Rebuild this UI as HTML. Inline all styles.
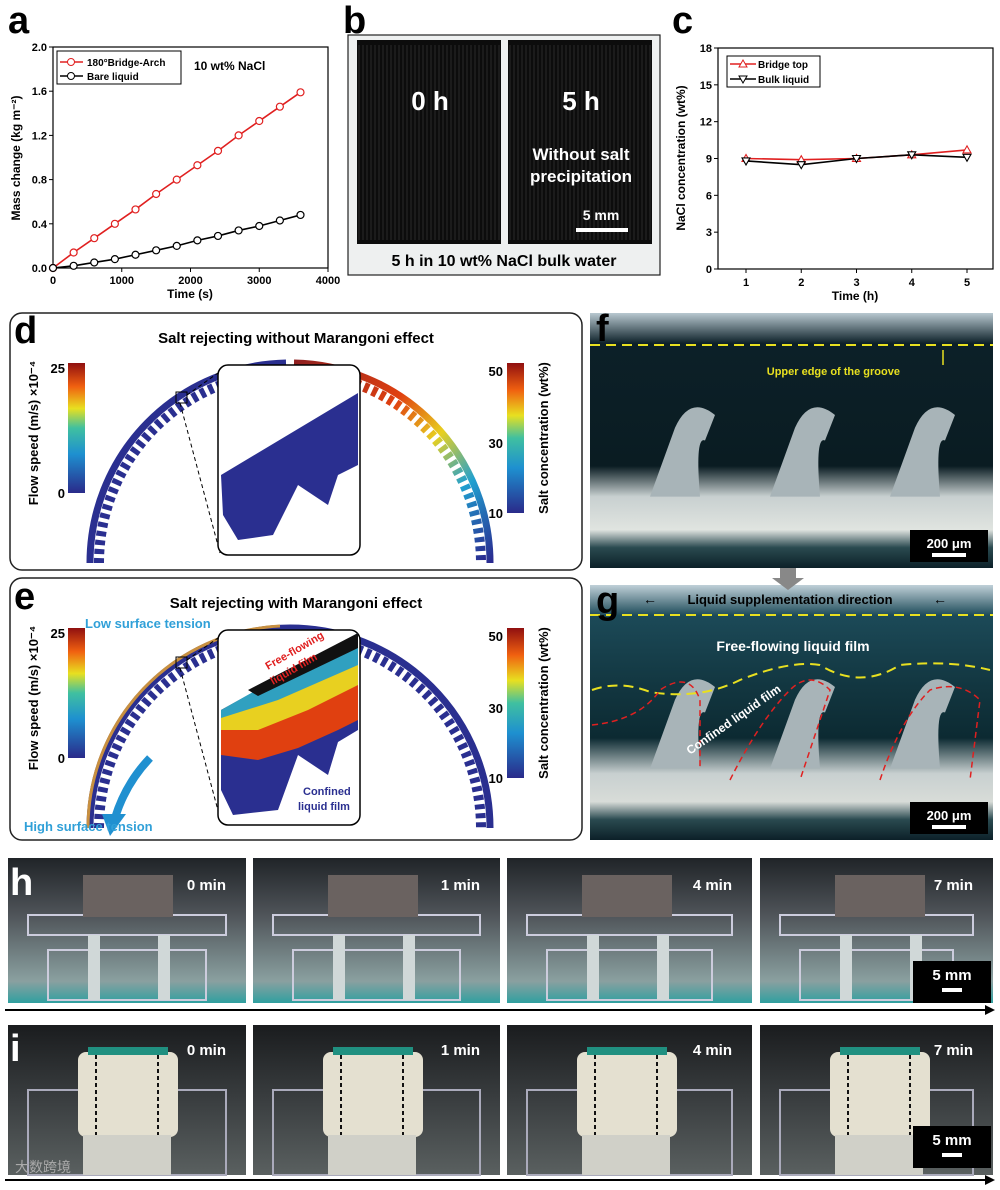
<!DOCTYPE html>
<html><head><meta charset="utf-8"><style>
body{margin:0;background:#fff;font-family:"Liberation Sans",Arial,sans-serif;}
#root{position:relative;width:1000px;height:1190px;overflow:hidden;background:#fff}
.lbl{position:absolute;font-weight:bold;font-size:38px;line-height:1;color:#000}
.abs{position:absolute}
</style></head><body><div id="root">
<svg width="1000" height="1190" style="position:absolute;left:0;top:0" id="svg">
<defs>
<linearGradient id="cbar" x1="0" y1="1" x2="0" y2="0"><stop offset="0" stop-color="#2a2a8a"/><stop offset=".3" stop-color="#1e90d0"/><stop offset=".5" stop-color="#40c0a0"/><stop offset=".65" stop-color="#e8e020"/><stop offset=".82" stop-color="#f06010"/><stop offset="1" stop-color="#901010"/></linearGradient>
<linearGradient id="arcg" x1="0" y1="0" x2="1" y2="1"><stop offset="0" stop-color="#902020"/><stop offset=".35" stop-color="#e04010"/><stop offset=".55" stop-color="#e8d020"/><stop offset=".75" stop-color="#20a0d0"/><stop offset="1" stop-color="#2a2a90"/></linearGradient>
<linearGradient id="photoF" x1="0" y1="0" x2="0" y2="1"><stop offset="0" stop-color="#b8c8d0"/><stop offset=".12" stop-color="#0c2028"/><stop offset=".6" stop-color="#0a1c22"/><stop offset=".72" stop-color="#c8d0d0"/><stop offset=".85" stop-color="#e0e4e0"/><stop offset=".92" stop-color="#2a4a50"/><stop offset="1" stop-color="#0c2028"/></linearGradient>
<linearGradient id="photoG" x1="0" y1="0" x2="0" y2="1"><stop offset="0" stop-color="#c0d0d8"/><stop offset=".12" stop-color="#1c4a58"/><stop offset=".4" stop-color="#123640"/><stop offset=".6" stop-color="#0c2a32"/><stop offset=".74" stop-color="#c8d0d0"/><stop offset=".85" stop-color="#d8dcd8"/><stop offset=".92" stop-color="#2a4a50"/><stop offset="1" stop-color="#0c2028"/></linearGradient>
<linearGradient id="photoH" x1="0" y1="0" x2="0" y2="1"><stop offset="0" stop-color="#202428"/><stop offset=".4" stop-color="#50555a"/><stop offset=".85" stop-color="#8aa0a0"/><stop offset="1" stop-color="#30a0a0"/></linearGradient>
<linearGradient id="photoI" x1="0" y1="0" x2="0" y2="1"><stop offset="0" stop-color="#1a1c1e"/><stop offset=".5" stop-color="#3a3e40"/><stop offset="1" stop-color="#5a6060"/></linearGradient>
</defs>
<g id="charts"></g>
</svg>
<div class="lbl" style="left:8px;top:2px">a</div>
<div class="lbl" style="left:343px;top:2px">b</div>
<div class="lbl" style="left:672px;top:2px">c</div>
<div class="lbl" style="left:14px;top:312px">d</div>
<div class="lbl" style="left:14px;top:578px">e</div>
<div class="lbl" style="left:596px;top:310px;color:#000">f</div>
<div class="lbl" style="left:596px;top:582px">g</div>
<div class="lbl" style="left:10px;top:864px;color:#fff">h</div>
<div class="lbl" style="left:10px;top:1030px;color:#fff">i</div>
<script>
const NS='http://www.w3.org/2000/svg';
const G=document.getElementById('charts');
function mk(t,a,p){const e=document.createElementNS(NS,t);for(const k in a)e.setAttribute(k,a[k]);(p||G).appendChild(e);return e;}
function tx(x,y,s,o){o=o||{};const e=mk('text',Object.assign({x:x,y:y,'font-size':o.fs||12,'font-weight':o.fw||'bold',fill:o.fill||'#000','text-anchor':o.a||'start','font-family':'Liberation Sans, Arial, sans-serif'},o.t?{transform:o.t}:{}));e.textContent=s;return e;}

// ---- Panel a data
const aTimes=[0,300,600,900,1200,1500,1800,2100,2400,2700,3000,3300,3600];
const aBridge=[0,0.14,0.27,0.40,0.53,0.67,0.80,0.93,1.06,1.20,1.33,1.46,1.59];
const aBare=[0,0.02,0.05,0.08,0.12,0.16,0.20,0.25,0.29,0.34,0.38,0.43,0.48];
const aXTicks=[0,1000,2000,3000,4000];
const aYTicks=[0.0,0.4,0.8,1.2,1.6,2.0];
// ---- Panel c data
const cHours=[1,2,3,4,5];
const cBridge=[9.0,8.9,9.0,9.3,9.7];
const cBulk=[8.8,8.5,9.0,9.3,9.1];
const cYTicks=[0,3,6,9,12,15,18];

// panel a axes
const ax=v=>53+(v/4000)*275, ay=v=>268-(v/2.0)*221;
let fr=mk('rect',{x:53,y:47,width:275,height:221,fill:'none',stroke:'#000','stroke-width':1.2});

aXTicks.forEach(v=>{mk('line',{x1:ax(v),x2:ax(v),y1:268,y2:272,stroke:'#000'});tx(ax(v),284,String(v),{a:'middle',fs:11});});
aYTicks.forEach(v=>{mk('line',{x1:49,x2:53,y1:ay(v),y2:ay(v),stroke:'#000'});tx(47,ay(v)+4,v.toFixed(1),{a:'end',fs:11});});
tx(190,298,'Time (s)',{a:'middle',fs:12});
tx(20,158,'Mass change (kg m⁻²)',{a:'middle',fs:12,t:'rotate(-90 20 158)'});
function series(xs,ys,fx,fy,col,name,marker){
  const l=mk('polyline',{points:xs.map((x,i)=>fx(x)+','+fy(ys[i])).join(' '),fill:'none',stroke:col,'stroke-width':1.6});
  
  xs.forEach((x,i)=>{let m;
    if(marker==='circle')m=mk('circle',{cx:fx(x),cy:fy(ys[i]),r:3.5,fill:'#fff',stroke:col,'stroke-width':1.2});
    else{const X=fx(x),Y=fy(ys[i]);const pts=marker==='up'?[[X,Y-4],[X-4,Y+3],[X+4,Y+3]]:[[X,Y+4],[X-4,Y-3],[X+4,Y-3]];m=mk('polygon',{points:pts.map(p=>p.join(',')).join(' '),fill:'#fff',stroke:col,'stroke-width':1.1});}
    });
}
series(aTimes,aBridge,ax,ay,'#e02020','bridge-arch','circle');
series(aTimes,aBare,ax,ay,'#000','bare-liquid','circle');
mk('rect',{x:57,y:51,width:124,height:33,fill:'#fff',stroke:'#000'});
mk('line',{x1:60,x2:83,y1:62,y2:62,stroke:'#e02020','stroke-width':1.5});mk('circle',{cx:71,cy:62,r:3.5,fill:'#fff',stroke:'#e02020'});
tx(87,66,'180°Bridge-Arch',{fs:10});
mk('line',{x1:60,x2:83,y1:76,y2:76,stroke:'#000','stroke-width':1.5});mk('circle',{cx:71,cy:76,r:3.5,fill:'#fff',stroke:'#000'});
tx(87,80,'Bare liquid',{fs:10});
tx(194,70,'10 wt% NaCl',{fs:12});

// panel b
mk('rect',{x:348,y:35,width:312,height:240,fill:'#eef0f0',stroke:'#222','stroke-width':1.2});
for(const x0 of [357,508]){mk('rect',{x:x0,y:40,width:144,height:204,fill:'#0c0c0c'});
 for(let k=0;k<36;k++)mk('line',{x1:x0+2+k*4,x2:x0+2+k*4,y1:45,y2:240,stroke:'#2a2a2a','stroke-width':1});}
tx(430,110,'0 h',{fs:26,fill:'#fff',a:'middle'});tx(581,110,'5 h',{fs:26,fill:'#fff',a:'middle'});
tx(581,160,'Without salt',{fs:17,fill:'#fff',a:'middle'});tx(581,182,'precipitation',{fs:17,fill:'#fff',a:'middle'});
tx(601,220,'5 mm',{fs:14,fill:'#fff',a:'middle'});mk('rect',{x:576,y:228,width:52,height:4,fill:'#fff'});
tx(504,266,'5 h in 10 wt% NaCl bulk water',{fs:16,a:'middle'});

// panel c axes
const cx=v=>746+(v-1)*55.25, cy=v=>269-(v/18)*221;
fr=mk('rect',{x:718,y:48,width:275,height:221,fill:'none',stroke:'#000','stroke-width':1.2});

cHours.forEach(v=>{mk('line',{x1:cx(v),x2:cx(v),y1:269,y2:273,stroke:'#000'});tx(cx(v),286,String(v),{a:'middle',fs:11});});
cYTicks.forEach(v=>{mk('line',{x1:714,x2:718,y1:cy(v),y2:cy(v),stroke:'#000'});tx(712,cy(v)+4,String(v),{a:'end',fs:11});});
tx(855,300,'Time (h)',{a:'middle',fs:12});
tx(685,158,'NaCl concentration (wt%)',{a:'middle',fs:12,t:'rotate(-90 685 158)'});
series(cHours,cBridge,cx,cy,'#e02020','bridge-top','up');
series(cHours,cBulk,cx,cy,'#000','bulk-liquid','down');
mk('rect',{x:727,y:56,width:93,height:31,fill:'#fff',stroke:'#000'});
mk('line',{x1:730,x2:756,y1:64,y2:64,stroke:'#e02020','stroke-width':1.5});mk('polygon',{points:'743,60 739,67 747,67',fill:'#fff',stroke:'#e02020'});
tx(758,68,'Bridge top',{fs:10});
mk('line',{x1:730,x2:756,y1:79,y2:79,stroke:'#000','stroke-width':1.5});mk('polygon',{points:'743,83 739,76 747,76',fill:'#fff',stroke:'#000'});
tx(758,83,'Bulk liquid',{fs:10});

// panels d and e
function simPanel(y0,title,mar){
  mk('rect',{x:10,y:y0,width:572,height:y0===313?257:262,rx:12,fill:'#fff',stroke:'#222','stroke-width':1.5});
  tx(296,y0+30,title,{fs:15,a:'middle'});
  const cyc=y0+250, R=200, cxc=290;
  // colorbars
  mk('rect',{x:68,y:y0+50,width:17,height:130,fill:'url(#cbar)'});
  tx(65,y0+60,'25',{fs:13,a:'end'});tx(65,y0+185,'0',{fs:13,a:'end'});
  tx(38,y0+120,'Flow speed (m/s) ×10⁻⁴',{fs:13,a:'middle',t:'rotate(-90 38 '+(y0+120)+')'});
  mk('rect',{x:507,y:y0+50,width:17,height:150,fill:'url(#cbar)'});
  tx(503,y0+63,'50',{fs:13,a:'end'});tx(503,y0+135,'30',{fs:13,a:'end'});tx(503,y0+205,'10',{fs:13,a:'end'});
  tx(548,y0+125,'Salt concentration (wt%)',{fs:13,a:'middle',t:'rotate(-90 548 '+(y0+125)+')'});
  // arc
  if(!mar){
    mk('path',{d:`M${cxc-R},${cyc} A${R},${R} 0 0 1 ${cxc-4},${cyc-R}`,fill:'none',stroke:'#2a2f90','stroke-width':7});
    mk('path',{d:`M${cxc-R+9},${cyc} A${R-9},${R-9} 0 0 1 ${cxc-4},${cyc-R+9}`,fill:'none',stroke:'#2a2f90','stroke-width':10,'stroke-dasharray':'5 4'});
    mk('path',{d:`M${cxc+4},${cyc-R} A${R},${R} 0 0 1 ${cxc+R},${cyc}`,fill:'none',stroke:'url(#arcg)','stroke-width':7});
    mk('path',{d:`M${cxc+4},${cyc-R+9} A${R-9},${R-9} 0 0 1 ${cxc+R-9},${cyc}`,fill:'none',stroke:'url(#arcg)','stroke-width':10,'stroke-dasharray':'5 4'});
  } else {
    mk('path',{d:`M${cxc-R},${cyc} A${R},${R} 0 0 1 ${cxc+R},${cyc}`,fill:'none',stroke:'#2a2f90','stroke-width':7});
    mk('path',{d:`M${cxc-R+9},${cyc} A${R-9},${R-9} 0 0 1 ${cxc+R-9},${cyc}`,fill:'none',stroke:'#2a2f90','stroke-width':10,'stroke-dasharray':'5 4'});
    mk('path',{d:`M${cxc-R-2},${cyc} A${R+2},${R+2} 0 0 1 ${cxc-10},${cyc-R-2}`,fill:'none',stroke:'#c89040','stroke-width':3});
    mk('path',{d:`M${cxc-140},${cyc-70} A150,150 0 0 0 ${cxc-175},${cyc-10}`,fill:'none',stroke:'#2090d0','stroke-width':8});
    mk('polygon',{points:`${cxc-188},${cyc-14} ${cxc-164},${cyc-14} ${cxc-180},${cyc+8}`,fill:'#2090d0'});
    tx(85,y0+50,'Low surface tension',{fs:13,fill:'#30a0d8'});
    tx(24,y0+253,'High surface tension',{fs:13,fill:'#30a0d8'});
  }
  mk('rect',{x:176,y:y0+79,width:11,height:11,fill:'none',stroke:'#000'});
  mk('line',{x1:180,x2:220,y1:y0+90,y2:y0+240,stroke:'#000','stroke-dasharray':'4 3'});
  mk('line',{x1:187,x2:225,y1:y0+82,y2:y0+55,stroke:'#000','stroke-dasharray':'4 3'});
  const ix=218,iy=y0+52,iw=142,ih=y0===313?190:195;
  mk('rect',{x:ix,y:iy,width:iw,height:ih,rx:10,fill:'#fff',stroke:'#000','stroke-width':1.5});
  if(!mar){
    mk('polygon',{points:`${ix+3},${iy+110} ${ix+140},${iy+28} ${ix+140},${iy+100} ${ix+120},${iy+110} ${ix+110},${iy+140} ${ix+80},${iy+120} ${ix+55},${iy+170} ${ix+20},${iy+175} ${ix+5},${iy+150}`,fill:'#2a2f90'});
  } else {
    mk('polygon',{points:`${ix+3},${iy+80} ${ix+140},${iy+5} ${ix+140},${iy+100} ${ix+120},${iy+112} ${ix+110},${iy+145} ${ix+80},${iy+125} ${ix+60},${iy+180} ${ix+15},${iy+185} ${ix+3},${iy+160}`,fill:'#2a2f90'});
    mk('polygon',{points:`${ix+3},${iy+80} ${ix+140},${iy+5} ${ix+140},${iy+90} ${ix+120},${iy+100} ${ix+80},${iy+118} ${ix+40},${iy+130} ${ix+3},${iy+125}`,fill:'#e04010'});
    mk('polygon',{points:`${ix+3},${iy+85} ${ix+140},${iy+8} ${ix+140},${iy+55} ${ix+90},${iy+80} ${ix+40},${iy+100} ${ix+3},${iy+100}`,fill:'#e8d020'});
    mk('polygon',{points:`${ix+3},${iy+80} ${ix+140},${iy+3} ${ix+140},${iy+35} ${ix+60},${iy+70} ${ix+3},${iy+88}`,fill:'#30a0c0'});
    mk('polygon',{points:`${ix+30},${iy+60} ${ix+140},${iy+3} ${ix+140},${iy+18} ${ix+40},${iy+66}`,fill:'#111'});
    tx(ix+50,iy+40,'Free-flowing',{fs:11,fill:'#e02020',t:`rotate(-30 ${ix+50} ${iy+40})`});
    tx(ix+55,iy+55,'liquid film',{fs:11,fill:'#e02020',t:`rotate(-30 ${ix+55} ${iy+55})`});
    tx(ix+85,iy+165,'Confined',{fs:11,fill:'#2a2f90'});tx(ix+80,iy+180,'liquid film',{fs:11,fill:'#2a2f90'});
  }
}
simPanel(313,'Salt rejecting without Marangoni effect',false);
simPanel(578,'Salt rejecting with Marangoni effect',true);

// panels f and g
function micro(y0,h,fill){
  mk('rect',{x:590,y:y0,width:403,height:h,fill:fill});
  for(const px of [650,770,890]){
    mk('path',{d:`M${px},${y0+h*0.72} L${px+25},${y0+h*0.45} Q${px+40},${y0+h*0.32} ${px+65},${y0+h*0.4} L${px+55},${y0+h*0.5} Q${px+45},${y0+h*0.48} ${px+50},${y0+h*0.72}Z`,fill:'#a8b4b8'});
  }
  mk('rect',{x:910,y:y0+h-38,width:78,height:32,fill:'#000'});
  tx(949,y0+h-20,'200 μm',{fs:13,fill:'#fff',a:'middle'});mk('rect',{x:932,y:y0+h-15,width:34,height:4,fill:'#fff'});
}
micro(313,255,'url(#photoF)');
mk('line',{x1:590,x2:993,y1:345,y2:345,stroke:'#e8e020','stroke-width':2,'stroke-dasharray':'10 6'});
tx(900,375,'Upper edge of the groove',{fs:11,fill:'#e8e020',a:'end'});
mk('line',{x1:943,x2:943,y1:365,y2:350,stroke:'#e8e020','stroke-width':1.5});
micro(585,255,'url(#photoG)');
mk('polygon',{points:'780,568 796,568 796,578 804,578 788,590 772,578 780,578',fill:'#888'});
mk('line',{x1:590,x2:993,y1:615,y2:615,stroke:'#e8e020','stroke-width':2,'stroke-dasharray':'10 6'});
tx(790,604,'Liquid supplementation direction',{fs:13,a:'middle'});
tx(650,604,'←',{fs:14,a:'middle'});tx(940,604,'←',{fs:14,a:'middle'});
tx(793,651,'Free-flowing liquid film',{fs:14,fill:'#fff',a:'middle'});
mk('path',{d:'M592,690 Q620,680 650,692 Q700,700 740,680 Q790,660 820,665 Q860,690 900,665 Q950,660 990,670',fill:'none',stroke:'#e8e020','stroke-width':2,'stroke-dasharray':'10 6'});
mk('path',{d:'M592,725 Q640,720 660,690 Q690,670 700,700 L700,770 M730,780 Q760,720 790,690 Q810,670 830,690 L800,780 M880,780 Q900,720 930,690 Q960,680 980,700 L970,780',fill:'none',stroke:'#e02020','stroke-width':1.5,'stroke-dasharray':'6 4'});
tx(690,755,'Confined liquid film',{fs:12,fill:'#fff',t:'rotate(-35 690 755)'});

// rows h and i
const hx=[8,253,507,760], hw=[238,247,245,233], mins=['0 min','1 min','4 min','7 min'];
hx.forEach((x,i)=>{
  mk('rect',{x:x,y:858,width:hw[i],height:145,fill:'url(#photoH)'});
  mk('rect',{x:x+40,y:950,width:hw[i]-80,height:50,fill:'none',stroke:'#ccd','stroke-width':2});
  mk('rect',{x:x+20,y:915,width:hw[i]-40,height:20,fill:'none',stroke:'#ccd','stroke-width':2});
  mk('rect',{x:x+75,y:875,width:90,height:42,fill:'#6a6260'});
  mk('rect',{x:x+80,y:935,width:12,height:65,fill:'#d0d8d8'});mk('rect',{x:x+150,y:935,width:12,height:65,fill:'#d0d8d8'});
  tx(x+hw[i]-20,890,mins[i],{fs:15,fill:'#fff',a:'end'});
  mk('rect',{x:x,y:1025,width:hw[i],height:150,fill:'url(#photoI)'});
  mk('rect',{x:x+20,y:1090,width:hw[i]-40,height:85,fill:'none',stroke:'#aab','stroke-width':2});
  mk('rect',{x:x+70,y:1052,width:100,height:85,rx:8,fill:'#e4e0d0'});
  mk('rect',{x:x+75,y:1135,width:88,height:40,fill:'#d0d0c8'});
  mk('rect',{x:x+80,y:1047,width:80,height:8,fill:'#209080'});
  mk('line',{x1:x+88,x2:x+88,y1:1055,y2:1135,stroke:'#111','stroke-dasharray':'4 3','stroke-width':2});
  mk('line',{x1:x+150,x2:x+150,y1:1055,y2:1135,stroke:'#111','stroke-dasharray':'4 3','stroke-width':2});
  tx(x+hw[i]-20,1055,mins[i],{fs:15,fill:'#fff',a:'end'});
});
[[913,975],[913,1140]].forEach(([x,y])=>{mk('rect',{x:x,y:y-14,width:78,height:42,fill:'#000'});
 tx(x+39,y+5,'5 mm',{fs:15,fill:'#fff',a:'middle'});mk('rect',{x:x+29,y:y+13,width:20,height:4,fill:'#fff'});});
mk('line',{x1:5,x2:985,y1:1010,y2:1010,stroke:'#000','stroke-width':2});mk('polygon',{points:'985,1005 995,1010 985,1015'});
mk('line',{x1:5,x2:985,y1:1180,y2:1180,stroke:'#000','stroke-width':2});mk('polygon',{points:'985,1175 995,1180 985,1185'});
tx(15,1172,'大数跨境',{fs:14,fw:'normal',fill:'#aaa'});
</script>
</div></body></html>
